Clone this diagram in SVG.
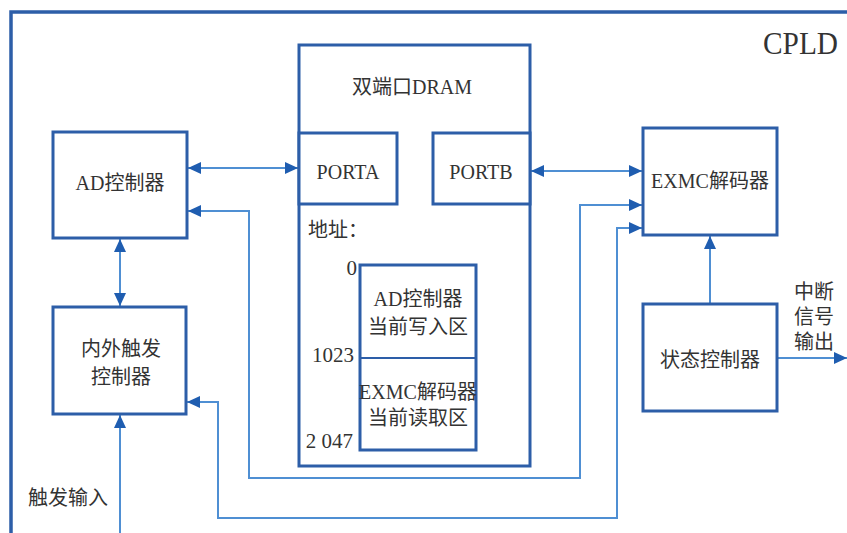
<svg xmlns="http://www.w3.org/2000/svg" width="847" height="533" viewBox="0 0 847 533">
<defs>
<style>
.box{fill:#fff;stroke:#2d5ea8;stroke-width:3}
.frame{fill:none;stroke:#2d5ea8;stroke-width:3.5}
.inner{fill:none;stroke:#2d5ea8;stroke-width:2}
.con{fill:none;stroke:#4f8fd3;stroke-width:2}
text{font-family:"Liberation Serif","Noto Sans CJK SC",serif;font-size:20px;fill:#333}
.c{text-anchor:middle}
.r{text-anchor:end}
</style>
<marker id="ah" markerUnits="userSpaceOnUse" markerWidth="13" markerHeight="12" refX="13" refY="6" orient="auto-start-reverse">
<path d="M0,0 L13,6 L0,12 z" fill="#1f5db0"/>
</marker>
</defs>
<rect width="847" height="533" fill="#fff"/>
<rect class="frame" x="11" y="12" width="900" height="600"/>
<text x="838" y="54" class="r" style="font-size:32px" textLength="75" lengthAdjust="spacingAndGlyphs">CPLD</text>

<g id="connectors">
<path class="con" d="M188,168 H298" marker-start="url(#ah)" marker-end="url(#ah)"/>
<path class="con" d="M531,171 H642" marker-start="url(#ah)" marker-end="url(#ah)"/>
<path class="con" d="M188,211 H249 V478 H580 V205 H642" marker-start="url(#ah)" marker-end="url(#ah)"/>
<path class="con" d="M187,402 H218 V518 H617 V228 H642" marker-start="url(#ah)" marker-end="url(#ah)"/>
<path class="con" d="M120,239 V306" marker-start="url(#ah)" marker-end="url(#ah)"/>
<path class="con" d="M120,533 V415" marker-end="url(#ah)"/>
<path class="con" d="M710,304 V236" marker-end="url(#ah)"/>
<path class="con" d="M778,358 H847" marker-end="url(#ah)"/>
</g>

<g id="ad">
<rect class="box" x="53" y="132" width="134" height="106"/>
<text x="120" y="190" class="c">AD控制器</text>
</g>

<g id="trigger">
<rect class="box" x="53" y="307" width="133" height="107"/>
<text x="121" y="356" class="c">内外触发</text>
<text x="121" y="384" class="c">控制器</text>
</g>

<g id="dram">
<rect class="box" x="299" y="45" width="231" height="421"/>
<text x="412" y="94" class="c">双端口DRAM</text>
<text x="308" y="237">地址：</text>
</g>

<g id="porta">
<rect class="box" x="299" y="133" width="98" height="71"/>
<text x="348" y="179" class="c">PORTA</text>
</g>

<g id="portb">
<rect class="box" x="433" y="133" width="97" height="71"/>
<text x="481" y="179" class="c">PORTB</text>
</g>

<g id="memory">
<rect class="box" x="360" y="265" width="116" height="185"/>
<line class="inner" x1="360" y1="358" x2="476" y2="358"/>
<text x="418" y="306" class="c">AD控制器</text>
<text x="418" y="334" class="c">当前写入区</text>
<text x="418" y="399" class="c">EXMC解码器</text>
<text x="418" y="425" class="c">当前读取区</text>
<text x="357" y="275" class="r" style="font-size:21px">0</text>
<text x="354" y="362" class="r" style="font-size:21px">1023</text>
<text x="353" y="448" class="r" style="font-size:21px">2 047</text>
</g>

<g id="exmc">
<rect class="box" x="643" y="128" width="134" height="107"/>
<text x="710" y="188" class="c">EXMC解码器</text>
</g>

<g id="status">
<rect class="box" x="643" y="304" width="134" height="107"/>
<text x="710" y="367" class="c">状态控制器</text>
</g>

<text x="814" y="299" class="c">中断</text>
<text x="814" y="324" class="c">信号</text>
<text x="814" y="349" class="c">输出</text>
<text x="28" y="505">触发输入</text>
</svg>
